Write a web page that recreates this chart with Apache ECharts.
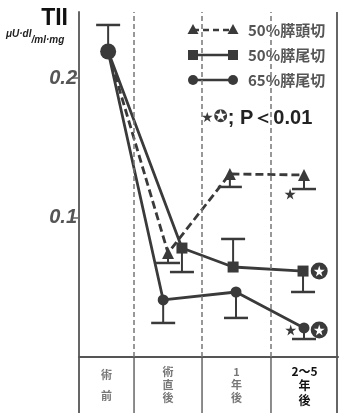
<!DOCTYPE html>
<html><head><meta charset="utf-8">
<script src="https://cdn.jsdelivr.net/npm/echarts@6/dist/echarts.min.js"></script>
<style>html,body{margin:0;padding:0;background:#fff}#c{width:341px;height:413px}</style>
</head><body><div id="c"></div>
<script>
// ---- data ----
const categories = ['術\n前', '術\n直\n後', '1\n年\n後', '2〜5\n年\n後'];
const colEdges = [0, 8.5, 19.0, 29.65, 40];
const yTicks = [0.1, 0.2];

const seriesNames = ['50%膵頭切', '50%膵尾切', '65%膵尾切'];
const triX = [4.5, 13.75, 23.3, 34.75];
const triY = [0.219, 0.0746, 0.1312, 0.1305];
const triErr = [null, 0.0674, 0.1219, 0.1204];
const sqX = [4.5, 15.9, 23.8, 34.6];
const sqY = [0.219, 0.0781, 0.0645, 0.0616];
const sqErr = [null, 0.0609, 0.0846, 0.0466];
const ciX = [4.5, 13.0, 24.25, 34.75];
const ciY = [0.219, 0.0409, 0.0466, 0.0208];
const ciErr = [0.238, 0.0244, 0.0280, 0.0129];
const starX = [32.6, 32.7];
const starY = [0.1168, 0.0194];
const cstarX = [37.1, 37.1];
const cstarY = [0.0616, 0.0194];

const INK = '#3a3a3a';
const STAR = 'path://M50,0 L61,35 L98,35 L68,57 L79,91 L50,70 L21,91 L32,57 L2,35 L39,35 Z';

function pts(xs, ys) { return xs.map((x, i) => [x, ys[i]]); }
function errs(xs, ys, es) {
  const out = [];
  xs.forEach((x, i) => { if (es[i] != null) out.push([x, ys[i], es[i]]); });
  return out;
}
const errData = [].concat(errs(triX, triY, triErr), errs(sqX, sqY, sqErr), errs(ciX, ciY, ciErr));

function lineSeries(name, xs, ys, symbol, size, type) {
  return {
    name, type: 'line', z: 3,
    data: pts(xs, ys).map((p, i) => i === 0 ? { value: p, symbol: 'none' } : { value: p }),
    symbol, symbolSize: size,
    lineStyle: { color: INK, width: 2.8, type: type },
    itemStyle: { color: INK, opacity: 1 },
    silent: true
  };
}

const chart = echarts.init(document.getElementById('c'));
chart.setOption({
  animation: false,
  grid: { left: 79, right: 3, top: 12, bottom: 56 },
  xAxis: {
    type: 'value', min: colEdges[0], max: colEdges[colEdges.length - 1],
    axisLine: { show: true, lineStyle: { color: '#555', width: 2 } },
    axisTick: { show: false }, axisLabel: { show: false }, splitLine: { show: false }
  },
  yAxis: {
    type: 'value', min: 0, max: 0.2473, interval: 0.1,
    axisLine: { show: true, lineStyle: { color: '#666', width: 2 } },
    axisTick: { show: true, length: 8, customValues: yTicks, lineStyle: { color: '#666', width: 1.5 } },
    axisLabel: {
      customValues: yTicks, formatter: v => v.toFixed(1), margin: 2,
      fontSize: 20, fontWeight: 'bold', fontStyle: 'italic', color: '#555',
      fontFamily: 'Liberation Sans'
    },
    splitLine: { show: false }
  },
  series: [
    {
      type: 'custom', z: 2, silent: true,
      data: errData,
      renderItem(params, api) {
        const p0 = api.coord([api.value(0), api.value(1)]);
        const p1 = api.coord([api.value(0), api.value(2)]);
        return {
          type: 'group', children: [
            { type: 'line', shape: { x1: p0[0], y1: p0[1], x2: p1[0], y2: p1[1] }, style: { stroke: INK, lineWidth: 2 } },
            { type: 'line', shape: { x1: p1[0] - 12, y1: p1[1], x2: p1[0] + 12, y2: p1[1] }, style: { stroke: INK, lineWidth: 2.5 } }
          ]
        };
      },
      markLine: {
        silent: true, symbol: 'none', label: { show: false },
        lineStyle: { color: '#777', type: [5, 3], width: 1.5 },
        data: colEdges.slice(1, -1).map(v => ({ xAxis: v }))
      }
    },
    lineSeries(seriesNames[0], triX, triY, 'triangle', 12, [8, 4]),
    lineSeries(seriesNames[1], sqX, sqY, 'rect', 11, 'solid'),
    lineSeries(seriesNames[2], ciX, ciY, 'circle', 11, 'solid'),
    {
      type: 'scatter', z: 4, silent: true, data: [pts(ciX, ciY)[0]],
      symbol: 'circle', symbolSize: 16, itemStyle: { color: INK, opacity: 1 }
    },
    {
      type: 'scatter', z: 4, silent: true, data: pts(starX, starY),
      symbol: STAR, symbolSize: 11, itemStyle: { color: INK, opacity: 1 }
    },
    {
      type: 'scatter', z: 4, silent: true, data: pts(cstarX, cstarY),
      symbol: 'circle', symbolSize: 17, itemStyle: { color: INK, opacity: 1 }
    },
    {
      type: 'scatter', z: 5, silent: true, data: pts(cstarX, cstarY),
      symbol: STAR, symbolSize: 11, itemStyle: { color: '#fff', opacity: 1 }
    }
  ]
});

// ---- decorations computed from axes ----
const yBot = chart.convertToPixel({ gridIndex: 0 }, [0, 0])[1];
const yTop = 12;
const H = 413;
const xL = chart.convertToPixel({ gridIndex: 0 }, [colEdges[0], 0])[0];
const xR = chart.convertToPixel({ gridIndex: 0 }, [colEdges[colEdges.length - 1], 0])[0];
const g = [];
g.push({ type: 'line', shape: { x1: xL, y1: yBot, x2: xL, y2: H }, style: { stroke: '#666', lineWidth: 2 } });
g.push({ type: 'line', shape: { x1: xR - 1, y1: yTop, x2: xR - 1, y2: H }, style: { stroke: '#666', lineWidth: 2 } });
colEdges.slice(1, -1).forEach(v => {
  const x = chart.convertToPixel({ gridIndex: 0 }, [v, 0])[0];
  g.push({ type: 'line', shape: { x1: x, y1: yBot, x2: x, y2: H }, style: { stroke: '#666', lineWidth: 1.5 } });
});
const catStyles = [
  { lh: 21, fs: 11, fw: 'bold', col: '#777', top: 364 },
  { lh: 13, fs: 11, fw: 'bold', col: '#777', top: 365 },
  { lh: 13, fs: 11, fw: 'bold', col: '#777', top: 365 },
  { lh: 14.5, fs: 12, fw: 'bold', col: '#111', top: 364 }
];
categories.forEach((c, i) => {
  const cx = chart.convertToPixel({ gridIndex: 0 }, [(colEdges[i] + colEdges[i + 1]) / 2, 0])[0];
  const s = catStyles[i];
  g.push({
    type: 'text', x: cx, y: s.top,
    style: {
      text: c, align: 'center', verticalAlign: 'top', lineHeight: s.lh,
      font: s.fw + ' ' + s.fs + 'px "Noto Sans CJK JP"', fill: s.col
    }
  });
});
// title
g.push({ type: 'text', x: 68, y: 7, style: { text: 'TII', align: 'right', font: 'bold 23px "Liberation Sans"', fill: '#111' } });
g.push({
  type: 'text', x: 6, y: 29,
  style: {
    text: '{a|μU·dl}{b|/ml·mg}',
    rich: {
      a: { font: 'italic bold 10px "Liberation Sans"', fill: '#222', verticalAlign: 'top' },
      b: { font: 'italic bold 10px "Liberation Sans"', fill: '#222', padding: [6, 0, 0, 0] }
    }
  }
});
// legend
const legY = [30, 55, 80];
const lx1 = 193, lx2 = 233;
function marker(kind, x, y) {
  if (kind === 0) return { type: 'polygon', shape: { points: [[x, y - 6], [x - 5.5, y + 4], [x + 5.5, y + 4]] }, style: { fill: INK } };
  if (kind === 1) return { type: 'rect', shape: { x: x - 5, y: y - 5, width: 10, height: 10 }, style: { fill: INK } };
  return { type: 'circle', shape: { cx: x, cy: y, r: 5 }, style: { fill: INK } };
}
seriesNames.forEach((n, i) => {
  const y = legY[i];
  g.push({ type: 'line', shape: { x1: lx1, y1: y, x2: lx2, y2: y }, style: { stroke: INK, lineWidth: 2.5, lineDash: i === 0 ? [6, 4] : null } });
  g.push(marker(i, lx1, y));
  g.push(marker(i, lx2, y));
  g.push({ type: 'text', x: 248, y: y, style: { text: n, verticalAlign: 'middle', font: 'bold 15px "Noto Sans CJK JP"', fill: '#555' } });
});
g.push({
  type: 'text', x: 201, y: 118,
  style: {
    text: '{s|★}{c|✪}{p|; P＜0.01}', verticalAlign: 'middle',
    rich: {
      s: { font: '14px "DejaVu Sans"', fill: INK },
      c: { font: '17px "DejaVu Sans"', fill: INK },
      p: { font: 'bold 20px "Liberation Sans"', fill: '#222' }
    }
  }
});
chart.setOption({ graphic: g });
</script></body></html>
